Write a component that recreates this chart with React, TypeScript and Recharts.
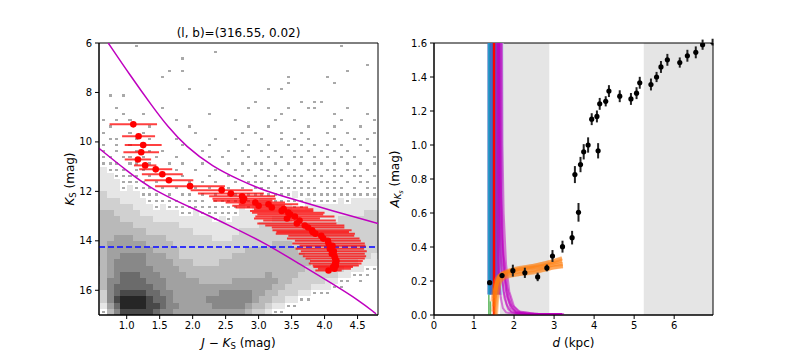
import React from 'react';
import { ComposedChart, XAxis, YAxis, Scatter, Line, ErrorBar, ReferenceArea, ReferenceLine } from 'recharts';

const FONT = "'DejaVu Sans', sans-serif";
const tickStyle = { fill: '#000', fontSize: 10, fontFamily: FONT };

// ---------- left panel: colour-magnitude diagram ----------
const cmdXTicks = [1.0, 1.5, 2.0, 2.5, 3.0, 3.5, 4.0, 4.5];
const cmdYTicks = [6, 8, 10, 12, 14, 16];
const cmdXDomain = [0.58, 4.81];
const cmdYDomain = [6, 17];

// 2D histogram of stars: columns are J-Ks bins of 0.1 from 0.5,
// rows are Ks bins of 0.25 from 6, digit = grey level (1 = a lone star)
const histColStart = 0.5;
const histColStep = 0.1;
const histRowStart = 6;
const histRowStep = 0.25;
const histRows = [
  '00000 01000 00000 00000 00000 00000 00000 00100 0000',
  '00000 00000 00000 00010 00000 00000 00000 00000 0000',
  '00000 00000 00010 00000 00000 00000 00000 00000 0000',
  '00000 00000 00000 00000 00000 00000 00000 00000 0100',
  '00000 00000 01010 00000 00000 00000 00000 00010 0000',
  '00000 00000 10000 00000 00000 00001 00000 10000 0000',
  '00000 00000 00000 00000 00000 00001 00000 01000 0000',
  '00000 00000 00001 00000 00000 01010 00000 00000 0000',
  '00101 00000 00000 00000 00000 00000 00000 00000 0000',
  '00000 00000 00000 00000 00001 00000 01011 00000 0000',
  '00010 00000 10000 00000 00010 01001 00110 00010 0000',
  '00001 00100 00000 00100 00000 00010 00000 01000 0100',
  '01010 10000 00100 00000 01000 00100 10000 00100 0010',
  '00100 00010 00001 00000 00010 01000 00100 01000 1000',
  '01000 10100 00000 10000 00101 00010 01000 10010 0010',
  '00110 01010 00100 00010 01000 10010 10100 01001 0100',
  '01010 10100 00010 00100 00010 01001 01010 10100 1000',
  '11010 01010 10000 01000 10100 10100 10101 01010 0100',
  '21101 10101 00100 00101 00010 01010 11010 10101 0010',
  '21110 11010 01010 01000 10101 10101 01011 01010 1010',
  '22111 01101 00100 10010 01010 11010 10110 11011 0101',
  '22211 11010 10010 00100 10101 01101 11011 01101 1010',
  '22221 11101 01001 01010 01011 10110 11101 11010 1101',
  '32221 21110 10100 10101 10101 11011 11110 11101 0110',
  '33222 22111 01011 01010 11011 11111 21111 11111 1111',
  '33332 22211 11101 11011 11111 22111 11211 11212 2222',
  '43333 32221 21111 11111 11212 22222 11222 22222 2222',
  '44433 33222 22211 21111 11222 22222 22222 22222 2333',
  '44443 33332 22222 22212 12222 22333 22222 22333 3333',
  '44444 43333 33322 22222 22222 33333 33333 33333 3333',
  '44444 44433 33333 22222 22333 33333 33333 33333 3333',
  '44455 54444 43333 33322 23333 33333 33333 33333 3333',
  '44555 55544 44333 33333 33333 33444 33333 33333 3333',
  '44555 55554 44433 33333 33344 44444 43333 33333 3333',
  '44556 66655 54433 33333 34444 44444 44333 33333 3322',
  '44566 66655 55444 33334 44444 44444 44433 33333 2221',
  '34566 66665 55544 44444 44444 44444 44333 33322 2111',
  '34567 77666 55554 44444 44444 45444 43333 33221 1100',
  '34667 77766 65555 54444 45555 55544 33333 22110 1000',
  '24677 77776 65555 55555 55555 55443 33322 21100 0000',
  '13678 88877 66555 55556 66665 54433 32211 10000 0000',
  '13689 99987 76555 55666 66665 44332 21100 00000 0000',
  '12579 99988 76655 55566 66654 43221 10000 00000 0000',
  '01468 88887 66555 55555 55543 32110 00000 00000 0000',
];
const greyLevels = ['', '#a9a9a9', '#e6e6e6', '#d0d0d0', '#b9b9b9', '#a1a1a1', '#888888', '#6b6b6b', '#494949', '#262626'];

const upperCurveX = [0.72, 1.05, 1.39, 1.62, 1.90, 2.30, 2.72, 3.06, 3.58, 4.08, 4.81];
const upperCurveY = [6.0, 7.3, 8.57, 9.38, 10.19, 11.0, 11.55, 11.95, 12.36, 12.76, 13.3];
const lowerCurveX = [0.58, 0.99, 1.39, 2.10, 2.60, 3.11, 3.61, 4.12, 4.52, 4.78];
const lowerCurveY = [10.26, 11.14, 11.95, 12.8, 13.44, 14.11, 14.92, 15.74, 16.41, 16.95];
const magLimit = 14.25;

const redColour = [1.10, 1.18, 1.25, 1.22, 1.17, 1.28, 1.44, 1.54, 1.64, 1.96, 2.44, 2.58, 2.75,
  2.78, 2.76, 2.95, 3.15, 3.00, 3.20, 3.38, 3.35, 3.45, 3.48, 3.55, 3.43, 3.62, 3.58, 3.70, 3.75,
  3.81, 3.82, 3.86, 3.95, 3.98, 4.05, 4.06, 4.12, 4.08, 4.14, 4.11, 4.15, 4.16, 4.18, 4.16, 4.17,
  4.13, 4.15, 4.06];
const redMag = [9.29, 9.77, 10.13, 10.42, 10.71, 10.95, 11.11, 11.31, 11.55, 11.79, 11.95, 12.09, 12.20,
  12.30, 12.38, 12.45, 12.52, 12.58, 12.65, 12.72, 12.79, 12.86, 12.94, 13.02, 13.10, 13.18, 13.30, 13.38, 13.46,
  13.57, 13.64, 13.71, 13.80, 13.91, 14.00, 14.11, 14.20, 14.32, 14.42, 14.52, 14.62, 14.72, 14.82, 14.92, 15.00,
  15.06, 15.13, 15.20];
const redErr = [0.36, 0.25, 0.28, 0.27, 0.20, 0.17, 0.25, 0.31, 0.37, 0.53, 0.47, 0.50, 0.50,
  0.48, 0.45, 0.45, 0.45, 0.40, 0.55, 0.45, 0.48, 0.55, 0.50, 0.60, 0.50, 0.55, 0.60, 0.60, 0.55,
  0.60, 0.55, 0.60, 0.50, 0.55, 0.50, 0.55, 0.50, 0.52, 0.50, 0.50, 0.48, 0.45, 0.40, 0.40, 0.35,
  0.30, 0.25, 0.20];

// ---------- right panel: extinction vs distance ----------
const distTicks = [0, 1, 2, 3, 4, 5, 6];
const extTicks = [0, 0.2, 0.4, 0.6, 0.8, 1.0, 1.2, 1.4, 1.6];
const distDomain = [0, 6.97];
const extDomain = [0, 1.6];
const shadedFrom = [1.65, 5.24];
const shadedTo = [2.88, 6.97];

const bundleDist = [1.36, 1.38, 1.40, 1.42, 1.44, 1.46, 1.48, 1.53, 1.55, 1.57, 1.59, 1.62, 1.65, 1.68, 1.71];
const bundleColour = ['#4a6cc4', '#17a6c4', '#1f8fbf', '#2f6fc4', '#3f68c8', '#4a63c8', '#1f77b4',
  '#4f62c6', '#5a58c8', '#6a4ec8', '#8a3cc8', '#a020c0', '#b040c8', '#8fd3de', '#c0e6ec'];
const greenDist = [1.37, 1.41];
const greenTop = [0.12, 0.08];
const peakDist = 1.5;

const decayDist = [
  [1.58, 1.58, 1.60, 1.63, 1.67, 1.72, 1.80, 2.0, 3.2],
  [1.62, 1.63, 1.66, 1.70, 1.76, 1.85, 1.95, 2.2, 3.2],
  [1.66, 1.67, 1.70, 1.75, 1.82, 1.92, 2.05, 2.4, 3.2],
  [1.64, 1.66, 1.72, 1.80, 1.90, 2.05, 2.30, 3.2],
  [1.70, 1.71, 1.74, 1.80, 1.88, 2.00, 2.15, 2.6, 3.2],
  [1.60, 1.61, 1.64, 1.68, 1.74, 1.82, 1.92, 2.1, 3.1],
  [1.68, 1.69, 1.72, 1.78, 1.86, 1.96, 2.08, 2.3, 3.25],
  [1.62, 1.64, 1.68, 1.74, 1.83, 1.95, 2.10, 2.5, 3.2],
];
const decayExt = [
  [1.62, 0.60, 0.35, 0.20, 0.10, 0.04, 0.015, 0.007, 0.006],
  [1.62, 0.70, 0.40, 0.22, 0.10, 0.035, 0.014, 0.007, 0.006],
  [1.62, 0.80, 0.45, 0.25, 0.11, 0.04, 0.014, 0.007, 0.006],
  [1.62, 0.60, 0.30, 0.14, 0.06, 0.018, 0.008, 0.006],
  [1.62, 1.00, 0.60, 0.30, 0.14, 0.05, 0.018, 0.007, 0.006],
  [1.62, 0.90, 0.50, 0.28, 0.14, 0.06, 0.022, 0.008, 0.006],
  [1.62, 0.70, 0.42, 0.22, 0.10, 0.04, 0.015, 0.007, 0.006],
  [1.62, 1.10, 0.65, 0.35, 0.16, 0.06, 0.022, 0.008, 0.006],
];
const fitDist = [
  [1.48, 1.52, 1.58, 1.70, 2.00, 2.50, 3.00, 3.22],
  [1.50, 1.55, 1.62, 1.80, 2.20, 2.70, 3.20],
  [1.52, 1.56, 1.62, 1.75, 2.10, 2.60, 3.10, 3.22],
  [1.46, 1.52, 1.60, 1.90, 2.40, 2.90, 3.20],
  [1.55, 1.60, 1.70, 2.00, 2.50, 3.00, 3.22],
  [1.50, 1.58, 1.70, 2.00, 2.50, 3.00, 3.20],
  [1.52, 1.65, 2.00, 2.60, 3.20],
];
const fitExt = [
  [0.02, 0.12, 0.19, 0.23, 0.25, 0.265, 0.295, 0.30],
  [0.05, 0.16, 0.22, 0.25, 0.27, 0.29, 0.32],
  [0.00, 0.10, 0.19, 0.225, 0.24, 0.26, 0.285, 0.29],
  [0.08, 0.18, 0.225, 0.26, 0.285, 0.31, 0.33],
  [0.00, 0.14, 0.21, 0.235, 0.25, 0.28, 0.285],
  [0.10, 0.20, 0.245, 0.27, 0.29, 0.32, 0.335],
  [0.14, 0.23, 0.26, 0.28, 0.31],
];

const obsDist = [1.39, 1.70, 1.97, 2.27, 2.59, 2.82, 2.96, 3.21, 3.45, 3.61, 3.52, 3.66, 3.74, 3.85, 4.10,
  3.94, 4.07, 4.14, 4.29, 4.37, 4.64, 4.92, 5.06, 5.14, 5.42, 5.56, 5.67, 5.83, 6.14, 6.33, 6.54, 6.71, 6.96];
const obsExt = [0.19, 0.232, 0.261, 0.248, 0.224, 0.277, 0.347, 0.402, 0.455, 0.604, 0.826, 0.885, 0.96, 1.0, 0.966,
  1.152, 1.168, 1.242, 1.257, 1.317, 1.287, 1.271, 1.305, 1.366, 1.356, 1.40, 1.459, 1.501, 1.485, 1.525, 1.545, 1.59, 1.605];
const obsErr = [0.01, 0.012, 0.035, 0.03, 0.025, 0.02, 0.035, 0.035, 0.04, 0.055, 0.05, 0.045, 0.045, 0.045, 0.045,
  0.035, 0.035, 0.035, 0.03, 0.035, 0.035, 0.035, 0.035, 0.035, 0.035, 0.03, 0.035, 0.035, 0.03, 0.035, 0.035, 0.03, 0.02];

const zip = (xs: number[], ys: number[]) => xs.map((x, i) => ({ x, y: ys[i] }));

function histCells() {
  const out: React.ReactNode[] = [];
  histRows.forEach((row, r) => {
    row.replace(/ /g, '').split('').forEach((ch, c) => {
      const lvl = Number(ch);
      if (!lvl) return;
      const x0 = histColStart + c * histColStep;
      const y0 = histRowStart + r * histRowStep;
      const speck = lvl === 1;
      const xm = x0 + histColStep / 2;
      const ym = y0 + histRowStep / 2;
      out.push(
        <ReferenceArea
          key={`h${r}-${c}`}
          x1={speck ? xm - 0.023 : x0}
          x2={speck ? xm + 0.023 : x0 + histColStep}
          y1={speck ? ym - 0.045 : y0}
          y2={speck ? ym + 0.045 : y0 + histRowStep}
          fill={greyLevels[lvl]}
          fillOpacity={1}
          stroke="none"
          shapeRendering="crispEdges"
          ifOverflow="hidden"
        />
      );
    });
  });
  return out;
}

const axisProps = {
  tick: tickStyle,
  tickLine: { stroke: '#000' },
  axisLine: { stroke: '#000' },
  tickSize: 4,
  tickMargin: 3,
};

function CmdPanel() {
  const red = redColour.map((x, i) => ({ x, y: redMag[i], e: redErr[i] }));
  return (
    <ComposedChart width={396} height={360} margin={{ top: 43, right: 18, bottom: 15, left: 0 }}>
      <XAxis type="number" dataKey="x" domain={cmdXDomain} ticks={cmdXTicks} allowDataOverflow
        tickFormatter={(v: number) => v.toFixed(1)} height={30} {...axisProps} />
      <YAxis type="number" dataKey="y" domain={cmdYDomain} ticks={cmdYTicks} reversed allowDataOverflow
        width={99} {...axisProps} />
      {histCells()}
      <Line data={zip(upperCurveX, upperCurveY)} dataKey="y" type="basis" stroke="#bf00bf"
        strokeWidth={1.5} dot={false} isAnimationActive={false} />
      <Line data={zip(lowerCurveX, lowerCurveY)} dataKey="y" type="basis" stroke="#bf00bf"
        strokeWidth={1.5} dot={false} isAnimationActive={false} />
      <ReferenceLine y={magLimit} stroke="#1a1aff" strokeWidth={1.8} strokeDasharray="6 3" strokeOpacity={0.85} />
      <Scatter data={red} dataKey="y" isAnimationActive={false}
        shape={(p: any) => <circle cx={p.cx} cy={p.cy} r={3.3} fill="#ff0000" />}>
        <ErrorBar dataKey="e" direction="x" width={0} stroke="#ff0000" strokeOpacity={0.75}
          strokeWidth={2} isAnimationActive={false} />
      </Scatter>
      <ReferenceArea x1={cmdXDomain[0]} x2={cmdXDomain[1]} y1={cmdYDomain[0]} y2={cmdYDomain[1]}
        fill="none" stroke="#000" strokeWidth={1} ifOverflow="visible" />
    </ComposedChart>
  );
}

function ExtinctionPanel() {
  const obs = obsDist.map((x, i) => ({ x, y: obsExt[i], e: obsErr[i] }));
  return (
    <ComposedChart width={396} height={360} margin={{ top: 43, right: 79, bottom: 15, left: 0 }}>
      <XAxis type="number" dataKey="x" domain={distDomain} ticks={distTicks} allowDataOverflow
        height={30} {...axisProps} />
      <YAxis type="number" dataKey="y" domain={extDomain} ticks={extTicks} allowDataOverflow
        tickFormatter={(v: number) => v.toFixed(1)} width={38} {...axisProps} />
      {shadedFrom.map((x1, i) => (
        <ReferenceArea key={`s${i}`} x1={x1} x2={shadedTo[i]} y1={extDomain[0]} y2={extDomain[1]}
          fill="#e5e5e5" fillOpacity={1} stroke="none" ifOverflow="hidden" />
      ))}
      {greenDist.map((d, i) => (
        <Line key={`g${i}`} data={[{ x: d, y: 0 }, { x: d, y: greenTop[i] }]} dataKey="y" stroke="#2ca02c"
          strokeWidth={1.6} strokeOpacity={0.7} dot={false} isAnimationActive={false} />
      ))}
      {bundleDist.map((d, i) => (
        <Line key={`b${i}`} data={[{ x: d, y: greenTop[0] }, { x: d, y: 1.65 }]} dataKey="y"
          stroke={bundleColour[i]} strokeWidth={2.2} strokeOpacity={0.85} dot={false} isAnimationActive={false} />
      ))}
      {decayDist.map((ds, i) => (
        <Line key={`m${i}`} data={zip(ds, decayExt[i])} dataKey="y" type="linear" stroke="#bf00bf"
          strokeWidth={2} strokeOpacity={0.5} dot={false} isAnimationActive={false} />
      ))}
      <Line data={[{ x: peakDist, y: 0 }, { x: peakDist, y: 1.65 }]} dataKey="y" stroke="#ff0000"
        strokeWidth={2.5} dot={false} isAnimationActive={false} />
      {fitDist.map((ds, i) => (
        <Line key={`o${i}`} data={zip(ds, fitExt[i])} dataKey="y" type="monotone" stroke="#ff7f0e"
          strokeWidth={4} strokeOpacity={0.45} dot={false} isAnimationActive={false} />
      ))}
      <Scatter data={obs} dataKey="y" isAnimationActive={false}
        shape={(p: any) => <circle cx={p.cx} cy={p.cy} r={2.6} fill="#000" />}>
        <ErrorBar dataKey="e" direction="y" width={0} stroke="#222" strokeWidth={2}
          isAnimationActive={false} />
      </Scatter>
      <ReferenceArea x1={distDomain[0]} x2={distDomain[1]} y1={extDomain[0]} y2={extDomain[1]}
        fill="none" stroke="#000" strokeWidth={1} ifOverflow="visible" />
    </ComposedChart>
  );
}

export default function App() {
  return (
    <div style={{ position: 'absolute', left: 0, top: 0, width: 792, height: 360, background: '#fff', fontFamily: FONT }}>
      <div style={{ position: 'absolute', left: 0, top: 0 }}>
        <CmdPanel />
      </div>
      <div style={{ position: 'absolute', left: 396, top: 0 }}>
        <ExtinctionPanel />
      </div>
      <svg width={792} height={360} style={{ position: 'absolute', left: 0, top: 0, pointerEvents: 'none' }}
        fontFamily={FONT} fill="#000">
        <text x={238.5} y={37} fontSize={12} textAnchor="middle">(l, b)=(316.55, 0.02)</text>
        <text x={238.5} y={347} fontSize={12} textAnchor="middle">
          <tspan fontStyle="italic">J</tspan> − <tspan fontStyle="italic">K</tspan>
          <tspan fontSize={8.5} dy={2}>S</tspan><tspan dy={-2}> (mag)</tspan>
        </text>
        <text x={74} y={179} fontSize={12} textAnchor="middle" transform="rotate(-90 74 179)">
          <tspan fontStyle="italic">K</tspan><tspan fontSize={8.5} dy={2}>S</tspan><tspan dy={-2}> (mag)</tspan>
        </text>
        <text x={573.5} y={347} fontSize={12} textAnchor="middle">
          <tspan fontStyle="italic">d</tspan> (kpc)
        </text>
        <text x={399} y={179} fontSize={12} textAnchor="middle" transform="rotate(-90 399 179)">
          <tspan fontStyle="italic">A</tspan><tspan fontSize={8.5} fontStyle="italic" dy={2}>K</tspan>
          <tspan fontSize={6.5} fontStyle="italic" dy={1.5}>s</tspan><tspan dy={-3.5}> (mag)</tspan>
        </text>
      </svg>
    </div>
  );
}
